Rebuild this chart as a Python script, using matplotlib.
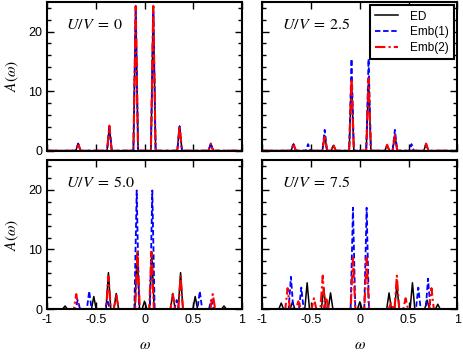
import numpy as np
from matplotlib import pyplot as plt
from matplotlib.ticker import MultipleLocator

plt.rcParams['font.family'] = ['Liberation Sans', 'DejaVu Sans']
plt.rcParams['mathtext.fontset'] = 'stix'
plt.rcParams['axes.unicode_minus'] = False

# peak positions (omega) and heights, one set per panel and series
panel_labels = [r'$U/V\;=\;0$', r'$U/V\;=\;2.5$', r'$U/V\;=\;5.0$', r'$U/V\;=\;7.5$']

ed_pos = [
    [-0.68, -0.36, -0.09, 0.09, 0.36, 0.68],
    [-0.68, -0.36, -0.27, -0.085, 0.09, 0.28, 0.36, 0.68],
    [-0.815, -0.52, -0.37, -0.29, -0.075, 0.0, 0.075, 0.29, 0.37, 0.52, 0.815],
    [-0.806, -0.69, -0.54, -0.37, -0.30, 0.0, 0.30, 0.38, 0.54, 0.69, 0.80],
]
ed_h = [
    [1.2, 4.1, 24.0, 24.0, 4.1, 1.2],
    [1.1, 2.5, 0.9, 11.8, 11.8, 0.9, 2.5, 1.1],
    [0.5, 2.1, 6.1, 2.6, 9.4, 1.3, 9.4, 2.6, 6.1, 2.1, 0.5],
    [1.0, 1.2, 4.4, 3.5, 2.7, 1.2, 2.7, 4.0, 4.4, 1.5, 0.8],
]

emb1_pos = [
    [-0.68, -0.36, -0.09, 0.09, 0.36, 0.68],
    [-0.68, -0.53, -0.36, -0.085, 0.09, 0.36, 0.53, 0.68],
    [-0.685, -0.567, -0.38, -0.08, 0.08, 0.33, 0.567, 0.685],
    [-0.706, -0.60, -0.07, 0.07, 0.60, 0.70],
]
emb1_h = [
    [1.2, 4.1, 24.2, 24.2, 4.1, 1.2],
    [1.1, 1.1, 3.5, 15.4, 15.4, 3.5, 1.1, 1.1],
    [1.5, 3.0, 1.5, 19.9, 19.9, 1.5, 3.0, 1.5],
    [5.4, 3.6, 17.0, 17.0, 3.6, 5.1],
]

emb2_pos = [
    [-0.68, -0.36, -0.09, 0.09, 0.36, 0.68],
    [-0.68, -0.36, -0.27, -0.085, 0.09, 0.28, 0.36, 0.68],
    [-0.70, -0.37, -0.29, -0.072, 0.072, 0.29, 0.37, 0.70],
    [-0.74, -0.63, -0.47, -0.38, -0.345, -0.07, 0.07, 0.32, 0.38, 0.47, 0.735],
]
emb2_h = [
    [1.2, 4.2, 24.3, 24.3, 4.2, 1.2],
    [1.2, 2.6, 1.0, 12.1, 12.1, 1.0, 2.6, 1.2],
    [2.5, 5.5, 2.5, 9.6, 9.6, 2.5, 5.5, 2.5],
    [3.5, 1.3, 1.8, 5.6, 2.0, 8.6, 8.6, 1.0, 5.6, 1.8, 3.5],
]

half_base = 0.024


def spectrum(pos, h):
    # baseline from -1 to 1 that rises to each peak
    x = [-1.0]
    y = [0.0]
    for p, a in sorted(zip(pos, h)):
        x += [p - half_base, p, p + half_base]
        y += [0.0, a, 0.0]
    x.append(1.0)
    y.append(0.0)
    return x, y


fig = plt.figure(figsize=(4.63, 3.54), dpi=100)
lefts = [0.1015, 0.5665]
bottoms = [0.5743, 0.1271]
w = 0.4212
hgt = 0.4207

for i in range(4):
    r, c = divmod(i, 2)
    ax = fig.add_axes([lefts[c], bottoms[r], w, hgt])
    x, y = spectrum(ed_pos[i], ed_h[i])
    ax.plot(x, y, color='black', lw=1.1, label='ED')
    x, y = spectrum(emb1_pos[i], emb1_h[i])
    ax.plot(x, y, color='#0000ff', lw=1.3, ls=(0, (3, 1.5)), label='Emb(1)')
    x, y = spectrum(emb2_pos[i], emb2_h[i])
    ax.plot(x, y, color='#ff0000', lw=1.5, ls=(0, (5, 1.5, 1, 1.5)), label='Emb(2)')

    ax.set_xlim(-1, 1)
    ax.set_ylim(0, 25)
    ax.xaxis.set_major_locator(MultipleLocator(0.5))
    ax.yaxis.set_major_locator(MultipleLocator(10))
    ax.yaxis.set_minor_locator(MultipleLocator(2))
    ax.tick_params(which='both', direction='in', top=True, right=True, labelsize=9)
    ax.tick_params(which='major', length=5, width=1)
    ax.tick_params(which='minor', length=3, width=1)
    for s in ax.spines.values():
        s.set_linewidth(1.5)

    ax.set_xticks([-1, -0.5, 0, 0.5, 1])
    ax.set_xticklabels(['-1', '-0.5', '0', '0.5', '1'])
    ax.set_yticks([0, 10, 20])
    ax.set_yticklabels(['0', '10', '20'])
    if r == 0:
        ax.tick_params(labelbottom=False)
    else:
        ax.set_xlabel(r'$\omega$', fontsize=11, labelpad=9)
    if c == 1:
        ax.tick_params(labelleft=False)
    else:
        ax.set_ylabel(r'$A(\omega)$', fontsize=11, labelpad=5)

    ax.text(0.10, 0.82, panel_labels[i], transform=ax.transAxes, fontsize=11.5)

    if i == 1:
        leg = ax.legend(loc='upper right', fontsize=8.5, frameon=True, fancybox=False,
                        edgecolor='black', framealpha=1, handlelength=1.9,
                        handletextpad=1.0, borderaxespad=0.3, labelspacing=0.3,
                        borderpad=0.45)
        leg.get_frame().set_linewidth(1.5)

plt.savefig('out.png', dpi=100)
